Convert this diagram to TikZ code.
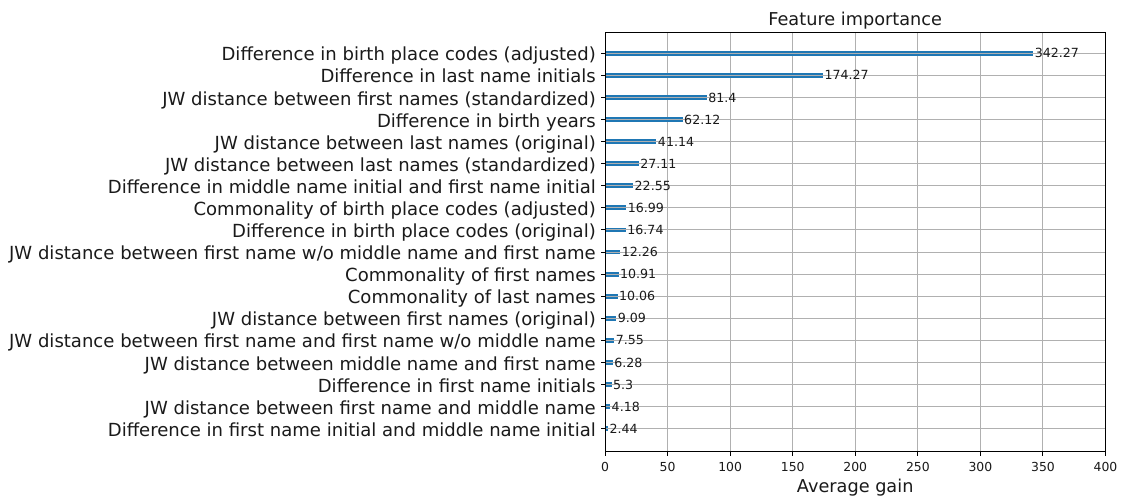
\documentclass[tikz,border=0pt]{standalone}
\usepackage{fontspec}
\setmainfont{DejaVu Sans}
\definecolor{barblue}{HTML}{1F77B4}
\definecolor{gridgray}{HTML}{B0B0B0}
\definecolor{txt}{HTML}{1A1A1A}
\begin{document}
\begin{tikzpicture}[x=1pt,y=-1pt,
  gridline/.style={draw=gridgray, line width=1pt},
  barstyle/.style={fill=barblue},
  spine/.style={draw=black, line width=1pt},
  tickmark/.style={draw=black, line width=1pt},
  ylab/.style={anchor=base east, inner sep=0pt, text=txt, font=\fontsize{18.05}{20}\selectfont},
  vlab/.style={anchor=base west, inner sep=0pt, text=txt, font=\fontsize{12.6}{14}\selectfont},
  xtick/.style={anchor=base, inner sep=0pt, text=txt, font=\fontsize{12.4}{14}\selectfont},
  bigtext/.style={anchor=base, inner sep=0pt, text=txt, font=\fontsize{17.7}{20}\selectfont}]
\useasboundingbox (0,0) rectangle (1121,499);
\fill[white] (0,0) rectangle (1121,499);
% vertical grid lines
\foreach \v in {50,100,...,350}
  \draw[gridline] ({605+1.2513*\v},32.3) -- ({605+1.2513*\v},451.7);
% bars, horizontal grid, labels
\foreach \v/\t [count=\k from 0] in {
  342.27/{Difference in birth place codes (adjusted)},
  174.27/{Difference in last name initials},
  81.4/{JW distance between first names (standardized)},
  62.12/{Difference in birth years},
  41.14/{JW distance between last names (original)},
  27.11/{JW distance between last names (standardized)},
  22.55/{Difference in middle name initial and first name initial},
  16.99/{Commonality of birth place codes (adjusted)},
  16.74/{Difference in birth place codes (original)},
  12.26/{JW distance between first name w/o middle name and first name},
  10.91/{Commonality of first names},
  10.06/{Commonality of last names},
  9.09/{JW distance between first names (original)},
  7.55/{JW distance between first name and first name w/o middle name},
  6.28/{JW distance between middle name and first name},
  5.3/{Difference in first name initials},
  4.18/{JW distance between first name and middle name},
  2.44/{Difference in first name initial and middle name initial}} {
  \pgfmathsetmacro{\yy}{53.3+22.08*\k}
  \pgfmathsetmacro{\xx}{605+1.2513*\v}
  \fill[barstyle] (605,\yy-2.4) rectangle (\xx,\yy+2.4);
  \draw[gridline] (605,\yy) -- (1105.5,\yy);
  \draw[tickmark] (605,\yy) -- (600.5,\yy);
  \node[ylab] (lab\k) at (596,\yy+7.6) {\t};
  \node[vlab] (val\k) at (\xx+1.3,\yy+4.6) {\v};
}
% spines
\draw[spine] (605,32.3) rectangle (1105.5,451.7);
% x ticks
\foreach \v in {0,50,...,400} {
  \draw[tickmark] ({605+1.2513*\v},451.7) -- ({605+1.2513*\v},456.2);
  \node[xtick] (xt\v) at ({605+1.2513*\v},471.3) {\v};
}
\node[bigtext] (title) at (855.2,25) {Feature importance};
\node[bigtext] (xlabel) at (855.2,492.5) {Average gain};
\end{tikzpicture}
\end{document}
